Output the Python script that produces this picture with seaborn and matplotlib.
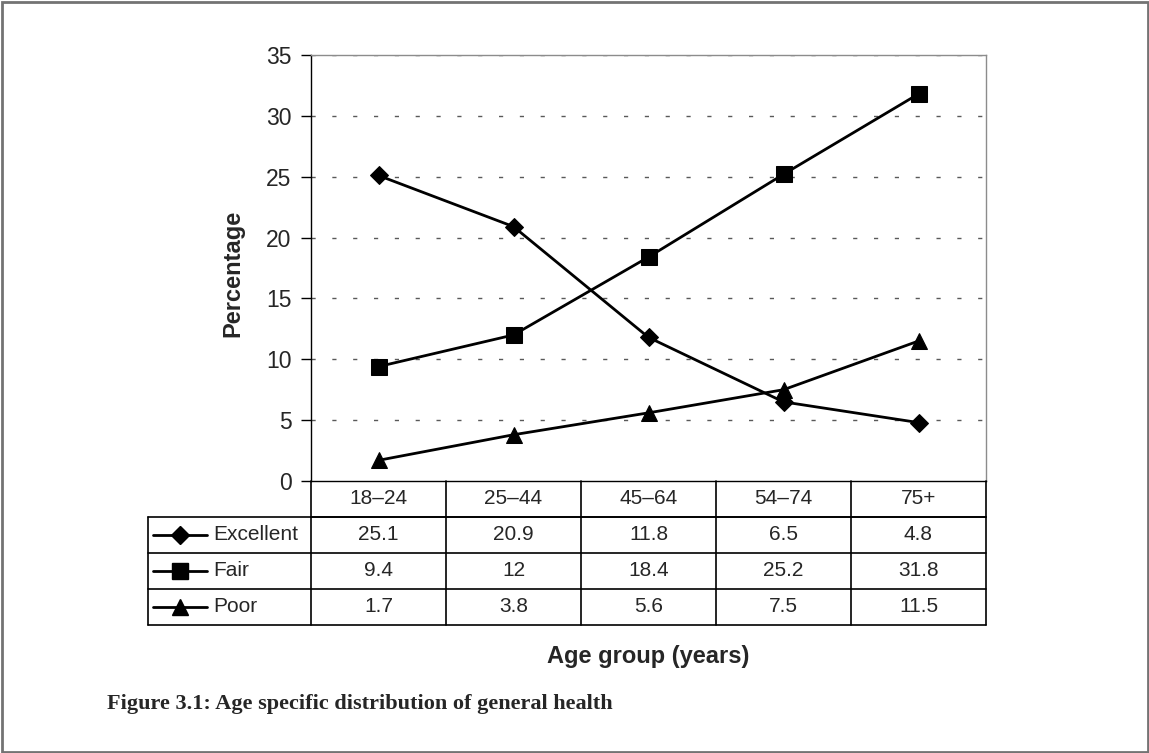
import numpy as np
import pandas as pd
import matplotlib
matplotlib.use('Agg')
import matplotlib.pyplot as plt
import seaborn as sns
from matplotlib.lines import Line2D
from matplotlib.patches import Rectangle

# data
age_groups = ['18–24', '25–44', '45–64', '54–74', '75+']
excellent = [25.1, 20.9, 11.8, 6.5, 4.8]
fair = [9.4, 12, 18.4, 25.2, 31.8]
poor = [1.7, 3.8, 5.6, 7.5, 11.5]
series_names = ['Excellent', 'Fair', 'Poor']
series_markers = {'Excellent': 'D', 'Fair': 's', 'Poor': '^'}
series_msize = {'Excellent': 9, 'Fair': 11, 'Poor': 11}

sns.set_style('white')
plt.rcParams['font.family'] = ['Liberation Sans', 'DejaVu Sans']

W, H = 1149, 753
fig = plt.figure(figsize=(W / 100, H / 100), dpi=100)


def fx(x):
    return x / W


def fy(y):
    return 1 - y / H


# pixel frame of the plot area
L, R, T, B = 311, 986, 55, 481
ax = fig.add_axes([fx(L), fy(B), fx(R - L), (B - T) / H])

pos = np.arange(len(age_groups))
data = pd.DataFrame({'pos': pos, 'Excellent': excellent, 'Fair': fair, 'Poor': poor})
long = data.melt(id_vars='pos', var_name='series', value_name='pct')

for name in series_names:
    sub = long[long['series'] == name]
    sns.lineplot(data=sub, x='pos', y='pct', ax=ax, color='black', lw=2,
                 marker=series_markers[name], markersize=series_msize[name],
                 markeredgecolor='black', markerfacecolor='black', legend=False)

ax.set_xlim(-0.5, len(age_groups) - 0.5)
ax.set_ylim(0, 35)
ax.set_yticks(np.arange(0, 36, 5))
ax.set_xticks([])
ax.set_xlabel('')
ax.set_ylabel('')
ax.tick_params(axis='y', direction='out', length=7, width=1, color='black',
               labelsize=16.5, pad=7, left=True)
for yv in np.arange(5, 36, 5):
    ax.axhline(yv, color='0.35', lw=1, dashes=(3, 12), zorder=0)
ax.spines['left'].set_color('black')
ax.spines['bottom'].set_color('black')
ax.spines['top'].set_color('0.55')
ax.spines['right'].set_color('0.55')
for s in ax.spines.values():
    s.set_linewidth(1)

# data table beneath the plot
col_w = (R - L) / len(age_groups)
row_h = 36
TL = 148
bottom = B + 4 * row_h
lk = dict(color='black', lw=1.2, transform=fig.transFigure)
# horizontal rules
fig.add_artist(Line2D([fx(L), fx(R)], [fy(B + row_h)] * 2, **lk))
for yy in [B + row_h, B + 2 * row_h, B + 3 * row_h, bottom]:
    fig.add_artist(Line2D([fx(TL), fx(R)], [fy(yy)] * 2, **lk))
# vertical rules
fig.add_artist(Line2D([fx(TL)] * 2, [fy(B + row_h), fy(bottom)], **lk))
for i in range(len(age_groups) + 1):
    xx = L + i * col_w
    fig.add_artist(Line2D([fx(xx)] * 2, [fy(B), fy(bottom)], **lk))

for i, lab in enumerate(age_groups):
    fig.text(fx(L + (i + 0.5) * col_w), fy(B + row_h / 2), lab,
             ha='center', va='center', fontsize=15)

table_vals = {'Excellent': excellent, 'Fair': fair, 'Poor': poor}
for r, name in enumerate(series_names):
    yc = B + (r + 1.5) * row_h
    for i, v in enumerate(table_vals[name]):
        fig.text(fx(L + (i + 0.5) * col_w), fy(yc), f'{v:g}',
                 ha='center', va='center', fontsize=15)
    fig.add_artist(Line2D([fx(153), fx(207)], [fy(yc)] * 2, color='black',
                          lw=2, transform=fig.transFigure))
    fig.add_artist(Line2D([fx(180)], [fy(yc)], color='black', lw=0,
                          marker=series_markers[name], markersize=series_msize[name],
                          transform=fig.transFigure))
    fig.text(fx(213), fy(yc), name, ha='left', va='center', fontsize=15)

fig.text(fx(233), fy(273), 'Percentage', rotation=90, ha='center',
         va='center', fontsize=17, fontweight='bold')
fig.text(fx(648), fy(657), 'Age group (years)', ha='center', va='center',
         fontsize=17, fontweight='bold')
fig.text(fx(107), fy(704), 'Figure 3.1: Age specific distribution of general health',
         ha='left', va='center', fontsize=16, fontweight='bold',
         family=['Liberation Serif', 'DejaVu Serif'])

fig.add_artist(Rectangle((fx(1.5), fy(751.5)), fx(1146), (750) / H, fill=False,
                         edgecolor='0.45', lw=2, transform=fig.transFigure))

fig.savefig('out.png', dpi=100)
